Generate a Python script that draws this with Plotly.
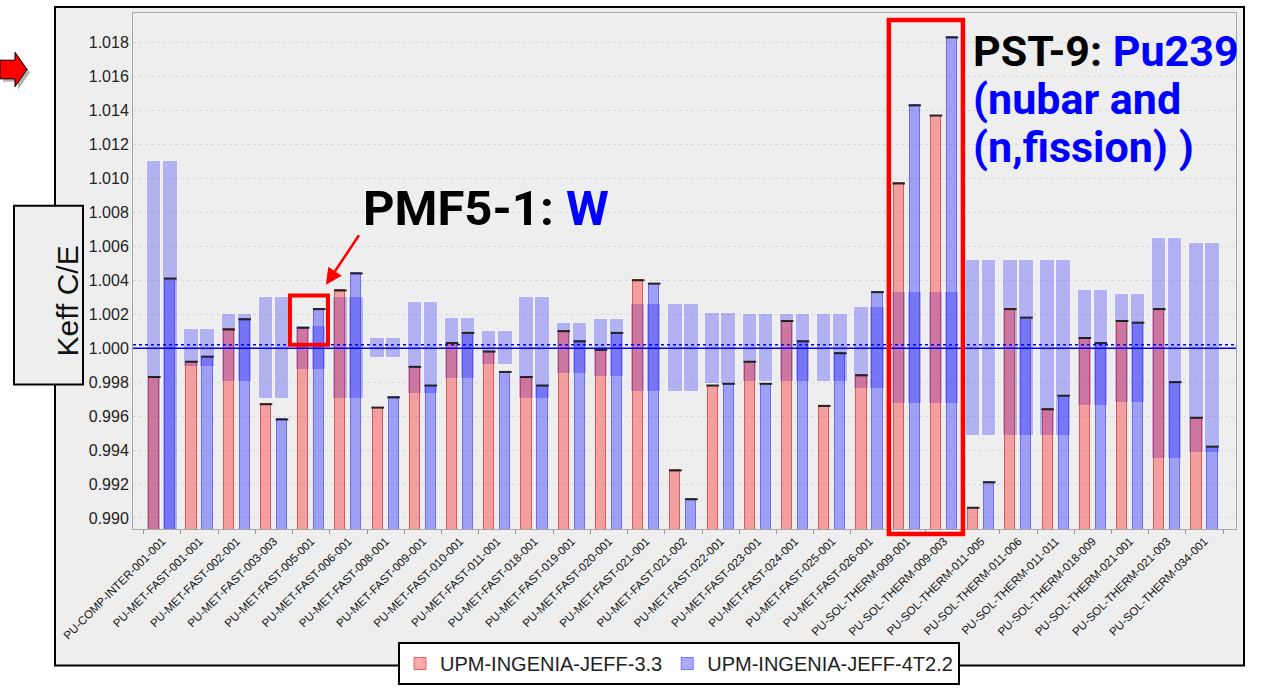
import plotly.graph_objects as go

categories = [
    "PU-COMP-INTER-001-001", "PU-MET-FAST-001-001", "PU-MET-FAST-002-001", "PU-MET-FAST-003-003",
    "PU-MET-FAST-005-001", "PU-MET-FAST-006-001", "PU-MET-FAST-008-001", "PU-MET-FAST-009-001",
    "PU-MET-FAST-010-001", "PU-MET-FAST-011-001", "PU-MET-FAST-018-001", "PU-MET-FAST-019-001",
    "PU-MET-FAST-020-001", "PU-MET-FAST-021-001", "PU-MET-FAST-021-002", "PU-MET-FAST-022-001",
    "PU-MET-FAST-023-001", "PU-MET-FAST-024-001", "PU-MET-FAST-025-001", "PU-MET-FAST-026-001",
    "PU-SOL-THERM-009-001", "PU-SOL-THERM-009-003", "PU-SOL-THERM-011-005", "PU-SOL-THERM-011-006",
    "PU-SOL-THERM-011-011", "PU-SOL-THERM-018-009", "PU-SOL-THERM-021-001", "PU-SOL-THERM-021-003",
    "PU-SOL-THERM-034-001",
]
jeff33 = [0.9983, 0.9992, 1.0011, 0.9967, 1.0012, 1.0034, 0.9965, 0.9989, 1.0003, 0.9998,
          0.9983, 1.0010, 0.9999, 1.0040, 0.9928, 0.9978, 0.9992, 1.0016, 0.9966, 0.9984,
          1.0097, 1.0137, 0.9906, 1.0023, 0.9964, 1.0006, 1.0016, 1.0023, 0.9959]
jeff4t22 = [1.0041, 0.9995, 1.0017, 0.9958, 1.0023, 1.0044, 0.9971, 0.9978, 1.0009, 0.9986,
            0.9978, 1.0004, 1.0009, 1.0038, 0.9911, 0.9979, 0.9979, 1.0004, 0.9997, 1.0033,
            1.0143, 1.0183, 0.9921, 1.0018, 0.9972, 1.0003, 1.0015, 0.9980, 0.9942]
exp_unc = [0.0110, 0.0011, 0.0020, 0.0030, 0.0013, 0.0030, 0.0006, 0.0027, 0.0018, 0.0010,
           0.0030, 0.0015, 0.0017, 0.0026, 0.0026, 0.0021, 0.0020, 0.0020, 0.0020, 0.0024,
           0.0033, 0.0033, 0.0052, 0.0052, 0.0052, 0.0034, 0.0032, 0.0065, 0.0062]
series_names = ["UPM-INGENIA-JEFF-3.3", "UPM-INGENIA-JEFF-4T2.2"]
y_ticks = [0.990, 0.992, 0.994, 0.996, 0.998, 1.000, 1.002, 1.004, 1.006, 1.008,
           1.010, 1.012, 1.014, 1.016, 1.018]

W, H = 1261, 697
ML, MR, MT, MB = 133, 25, 13, 159
PW, PH = W - ML - MR, H - MT - MB


def px(x):
    return (x - ML) / PW


def py(y):
    return (H - MB - y) / PH


n = len(categories)
idx = list(range(n))
OFF = 0.215
BASE = 0.98
xr = [i - OFF for i in idx]
xb = [i + OFF for i in idx]

fig = go.Figure()

# uncertainty bands
for xs in (xr, xb):
    fig.add_trace(go.Bar(
        x=xs, y=[2 * u for u in exp_unc], base=[1 - u for u in exp_unc], width=0.387,
        marker=dict(color="rgba(0,0,255,0.25)", line=dict(color="rgba(255,255,255,0.7)", width=1)),
        showlegend=False, hoverinfo="skip"))

fig.add_trace(go.Bar(
    x=xr, y=[v - BASE for v in jeff33], base=BASE, width=0.27, name=series_names[0],
    marker=dict(color="rgba(255,0,0,0.33)", line=dict(color="rgba(200,0,0,0.55)", width=1))))
fig.add_trace(go.Bar(
    x=xb, y=[v - BASE for v in jeff4t22], base=BASE, width=0.27, name=series_names[1],
    marker=dict(color="rgba(0,0,255,0.33)", line=dict(color="rgba(0,0,255,0.45)", width=1))))

for xs, vals in ((xr, jeff33), (xb, jeff4t22)):
    fig.add_trace(go.Scatter(
        x=xs, y=vals, mode="markers", showlegend=False, hoverinfo="skip",
        marker=dict(symbol="line-ew", size=9, line=dict(color="#222222", width=2))))

shapes = []
# outer gray panel
shapes.append(dict(type="rect", xref="paper", yref="paper", layer="below",
                   x0=px(55), x1=px(1244), y0=py(677), y1=py(7),
                   fillcolor="#eeeeee", line=dict(color="black", width=2)))
# y title box
shapes.append(dict(type="rect", xref="paper", yref="paper", layer="below",
                   x0=px(14), x1=px(83), y0=py(391), y1=py(209),
                   fillcolor="#eeeeee", line=dict(color="black", width=2)))
# reference lines
shapes.append(dict(type="line", xref="paper", yref="y", x0=0, x1=1, y0=1.0, y1=1.0,
                   line=dict(color="#0000ff", width=1.5)))
shapes.append(dict(type="line", xref="paper", yref="y", x0=0, x1=1, y0=1.0002, y1=1.0002,
                   line=dict(color="#0000ff", width=1.5, dash="dot")))
# highlight boxes
shapes.append(dict(type="rect", xref="x", yref="y", x0=3.43, x1=4.45, y0=1.0002, y1=1.0031,
                   line=dict(color="red", width=4)))
shapes.append(dict(type="rect", xref="x", yref="paper", x0=19.52, x1=21.51, y0=py(543), y1=py(20),
                   line=dict(color="red", width=4.5)))


def arrow_path(dx, dy):
    pts = [(0, 61), (15, 61), (15, 53), (27, 70.5), (15, 88), (15, 80), (0, 80)]
    return "M " + " L ".join(f"{px(x + dx)},{py(y + dy)}" for x, y in pts) + " Z"


shapes.append(dict(type="path", xref="paper", yref="paper", path=arrow_path(3, 3),
                   fillcolor="rgba(0,0,0,0.3)", line=dict(width=0)))
shapes.append(dict(type="path", xref="paper", yref="paper", path=arrow_path(0, 0),
                   fillcolor="#ff0000", line=dict(color="black", width=1)))

annotations = [
    dict(xref="paper", yref="paper", x=px(48.5), y=py(306.5), text="Keff C/E", textangle=-90,
         showarrow=False, font=dict(family="Liberation Sans, Arial", size=30, color="#111111")),
    dict(xref="paper", yref="paper", x=px(326), y=py(289.5), ax=34, ay=-51, text="",
         showarrow=True, arrowhead=2, arrowsize=1.3, arrowwidth=2.5, arrowcolor="red"),
    dict(xref="paper", yref="paper", x=px(361), y=py(212), xanchor="left", yanchor="middle",
         showarrow=False, font=dict(family="Roboto", size=49, color="black"),
         text="<b>PMF5-1: <span style='color:#0000ff'>W</span></b>"),
    dict(xref="paper", yref="paper", x=px(971), y=py(51.5), xanchor="left", yanchor="middle",
         showarrow=False, font=dict(family="Roboto", size=43, color="black"),
         text="<b>PST-9: <span style='color:#0000ff'>Pu239</span></b>"),
    dict(xref="paper", yref="paper", x=px(971), y=py(100.5), xanchor="left", yanchor="middle",
         showarrow=False, font=dict(family="Roboto", size=43, color="#0000ff"),
         text="<b>(nubar and</b>"),
    dict(xref="paper", yref="paper", x=px(971), y=py(149), xanchor="left", yanchor="middle",
         showarrow=False, font=dict(family="Roboto", size=43, color="#0000ff"),
         text="<b>(n,fission) )</b>"),
]

fig.update_layout(
    width=W, height=H, margin=dict(l=ML, r=MR, t=MT, b=MB),
    paper_bgcolor="white", plot_bgcolor="white", barmode="overlay", bargap=0,
    shapes=shapes, annotations=annotations,
    font=dict(family="Liberation Sans, Arial", color="#222222"),
    legend=dict(orientation="h", x=px(398), y=py(653), xanchor="left", yanchor="top",
                bgcolor="white", bordercolor="black", borderwidth=2,
                font=dict(family="Liberation Sans, Arial", size=20, color="#222222"),
                itemclick=False, itemdoubleclick=False, tracegroupgap=0),
    xaxis=dict(range=[-0.787, 28.846], tickmode="array", tickvals=idx, ticktext=categories,
               tickangle=-45, tickfont=dict(size=11.5, color="#111111"), ticks="",
               showgrid=False, zeroline=False, showline=True, mirror=True,
               linecolor="#a8a8a8", linewidth=1,
               minor=dict(tickmode="linear", tick0=0.5, dtick=1, ticks="outside",
                          ticklen=4, tickcolor="#999999", showgrid=False)),
    yaxis=dict(range=[0.98935, 1.01974], tickmode="array", tickvals=y_ticks,
               tickformat=".3f", tickfont=dict(size=16, color="#222222"),
               showgrid=True, gridcolor="#d9d9d9", griddash="dot", gridwidth=1,
               zeroline=False, showline=True, mirror=True, linecolor="#a8a8a8", linewidth=1),
)

fig.write_html("out.html")
